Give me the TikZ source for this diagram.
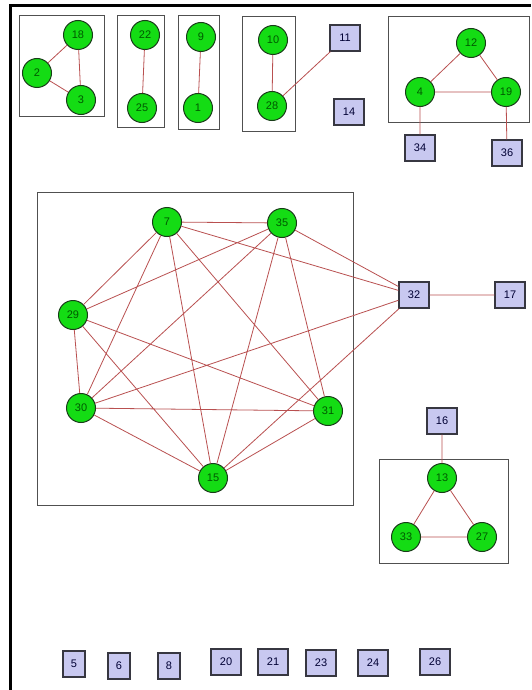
\documentclass[tikz,border=0pt]{standalone}
\usepackage{fontspec}
\setmainfont{Liberation Sans}
\definecolor{nodegreen}{RGB}{20,220,20}
\definecolor{nodeline}{RGB}{25,60,25}
\definecolor{sqfill}{RGB}{200,200,240}
\definecolor{sqline}{RGB}{55,55,65}
\definecolor{edgecol}{RGB}{185,80,80}
\definecolor{boxcol}{RGB}{80,80,80}
\begin{document}
\begin{tikzpicture}[x=1pt,y=-1pt,
  vtx/.style={circle,fill=nodegreen,draw=nodeline,line width=1pt,minimum size=29pt,inner sep=0pt,font=\fontsize{11}{12}\selectfont,text=black!65!green},
  sq/.style={rectangle,fill=sqfill,draw=sqline,line width=1.3pt,minimum width=22pt,minimum height=26pt,inner sep=0pt,font=\fontsize{11}{12}\selectfont,text=black!80!blue},
  sqw/.style={sq,minimum width=30pt},
  ed/.style={draw=edgecol,line width=0.8pt},
  grp/.style={draw=boxcol,line width=1pt}]
\useasboundingbox (0,0) rectangle (531,690);
\fill[white] (0,0) rectangle (531,690);
% frame
\draw[line width=3pt,black] (10,690) -- (10,6) -- (531,6);
% group boxes
\draw[grp] (19,16) rectangle (104,117);
\draw[grp] (117,16) rectangle (164,127);
\draw[grp] (178,16) rectangle (219,129);
\draw[grp] (242,17) rectangle (295,131);
\draw[grp] (388,17) rectangle (529,123);
\draw[grp] (37,192) rectangle (353,505);
\draw[grp] (379,459) rectangle (508,563);
% nodes
\node[vtx] (n18) at (78,35) {18};
\node[vtx] (n2) at (37,73) {2};
\node[vtx] (n3) at (81,100) {3};
\node[vtx] (n22) at (145,35) {22};
\node[vtx] (n25) at (142,108) {25};
\node[vtx] (n9) at (201,37) {9};
\node[vtx] (n1) at (198,108) {1};
\node[vtx] (n10) at (273,40) {10};
\node[vtx] (n28) at (272,106) {28};
\node[sqw] (n11) at (345,38) {11};
\node[sqw] (n14) at (349,112) {14};
\node[vtx] (n12) at (471,43) {12};
\node[vtx] (n4) at (420,92) {4};
\node[vtx] (n19) at (506,92) {19};
\node[sqw] (n34) at (420,148) {34};
\node[sqw] (n36) at (507,153) {36};
\node[vtx] (n7) at (167,222) {7};
\node[vtx] (n35) at (282,223) {35};
\node[vtx] (n29) at (73,315) {29};
\node[vtx] (n30) at (81,408) {30};
\node[vtx] (n31) at (328,411) {31};
\node[vtx] (n15) at (213,478) {15};
\node[sqw] (n32) at (414,295) {32};
\node[sqw] (n17) at (510,295) {17};
\node[sqw] (n16) at (442,421) {16};
\node[vtx] (n13) at (442,478) {13};
\node[vtx] (n33) at (406,537) {33};
\node[vtx] (n27) at (482,537) {27};
\node[sq] (n5) at (74,664) {5};
\node[sq] (n6) at (119,666) {6};
\node[sq] (n8) at (169,666) {8};
\node[sqw] (n20) at (226,662) {20};
\node[sqw] (n21) at (273,662) {21};
\node[sqw] (n23) at (321,663) {23};
\node[sqw] (n24) at (373,663) {24};
\node[sqw] (n26) at (435,662) {26};
% edges
\path[ed] (n18) -- (n2) (n2) -- (n3) (n18) -- (n3)
  (n22) -- (n25) (n9) -- (n1) (n10) -- (n28) (n28) -- (n11)
  (n12) -- (n4) (n12) -- (n19) (n4) -- (n19) (n4) -- (n34) (n19) -- (n36)
  (n7) -- (n35) (n7) -- (n29) (n7) -- (n30) (n7) -- (n31) (n7) -- (n15)
  (n35) -- (n29) (n35) -- (n30) (n35) -- (n31) (n35) -- (n15)
  (n29) -- (n30) (n29) -- (n31) (n29) -- (n15)
  (n30) -- (n31) (n30) -- (n15) (n31) -- (n15)
  (n7) -- (n32) (n35) -- (n32) (n30) -- (n32) (n15) -- (n32)
  (n32) -- (n17)
  (n16) -- (n13) (n13) -- (n33) (n13) -- (n27) (n33) -- (n27);
\end{tikzpicture}
\end{document}
